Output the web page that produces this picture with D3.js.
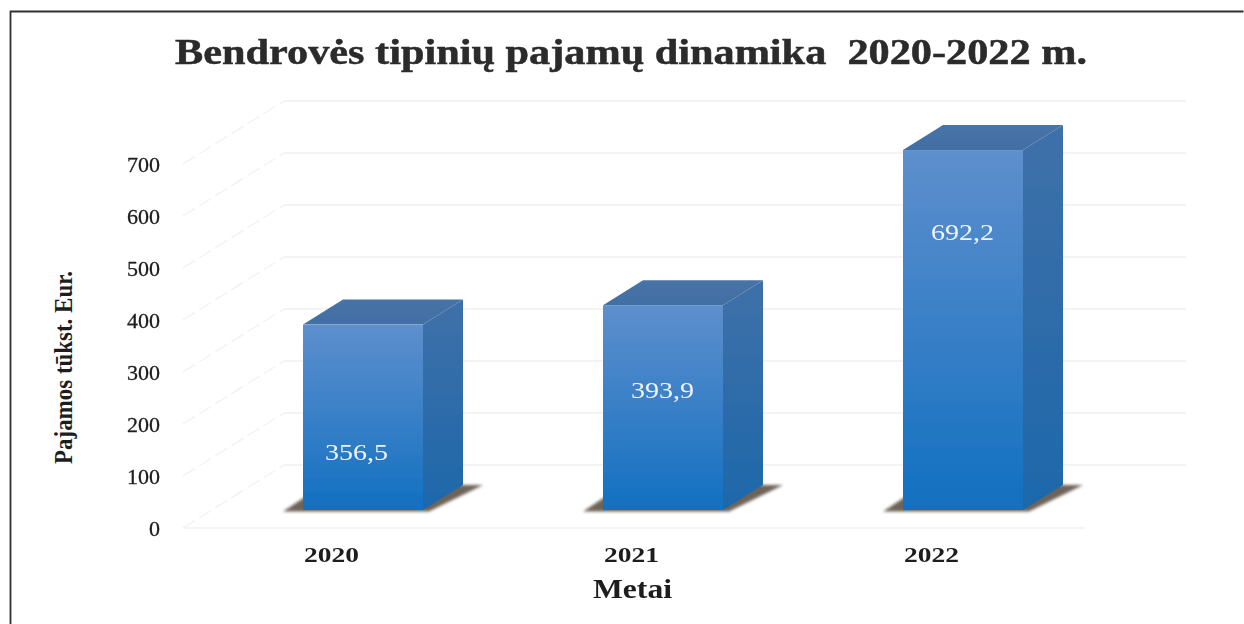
<!DOCTYPE html>
<html><head><meta charset="utf-8">
<script src="https://cdn.jsdelivr.net/npm/d3@7"></script>
<style>html,body{margin:0;padding:0;background:#fff}svg{display:block}text{font-family:"Liberation Serif",serif}</style>
</head><body><svg id="c" width="1244" height="624"></svg>
<script>
const categories = ["2020","2021","2022"];
const values = [356.5,393.9,692.2];
const valueLabels = ["356,5","393,9","692,2"];
const yTicks = [0,100,200,300,400,500,600,700];
const titleText = "Bendrovės tipinių pajamų dinamika  2020-2022 m.";
const yTitle = "Pajamos tūkst. Eur.";
const xTitle = "Metai";
const labelShare = [0.31,0.58,0.77];

const svg = d3.select("#c");
const defs = svg.append("defs");
function grad(id,a,b){const g=defs.append("linearGradient").attr("id",id).attr("x1",0).attr("y1",0).attr("x2",0).attr("y2",1);
  g.append("stop").attr("offset",0).attr("stop-color",a);g.append("stop").attr("offset",1).attr("stop-color",b);}
grad("front","#5e8fcd","#1270c0");
grad("side","#3f70a8","#1d68ab");
grad("top","#4773a6","#426fa5");
defs.append("filter").attr("id","blur").append("feGaussianBlur").attr("stdDeviation",1.5);
defs.append("filter").attr("id","soft").append("feGaussianBlur").attr("stdDeviation",0.4);

const H = d3.scaleLinear().domain([0,700]).range([0,364]);
const yFront = v => 528 - H(v);
const yBack = v => 465 - H(v);
const x = d3.scalePoint().domain(categories).range([363,963]);
const barW = 120, dx = 40, dy = 25, base = 510;

// frame
svg.append("path").attr("d","M10.5 624V11.5H1243.5").attr("fill","none").attr("stroke","#2f2f2f").attr("stroke-width",1.8);

// grid
const grid = svg.append("g").attr("fill","none").attr("stroke-width",1.3);
yTicks.forEach(t=>{
  grid.append("path").attr("stroke","#f1f1f1").attr("stroke-dasharray","14 5").attr("d",`M183 ${yFront(t)}L284 ${yBack(t)}`);
  grid.append("path").attr("stroke","#efefef").attr("d",`M284 ${yBack(t)}H1186`);
});
grid.append("path").attr("stroke","#f1f1f1").attr("d",`M183 ${yFront(0)}H1085`);

// bars
const bars = svg.append("g").attr("filter","url(#soft)").selectAll("g").data(values).join("g");
bars.each(function(v,i){
  const g=d3.select(this), l=x(categories[i])-barW/2, r=l+barW, t=base-H(v);
  g.append("path").attr("filter","url(#blur)").attr("fill","#6e6358")
    .attr("d",`M${l-20} ${base+1.5}L${l+20} ${base-25}H${r+60}L${r+6} ${base+1.5}Z`);
  g.append("path").attr("fill","url(#side)").attr("d",`M${r} ${t}L${r+dx} ${t-dy}V${base-dy}L${r} ${base}Z`);
  g.append("path").attr("fill","url(#top)").attr("d",`M${l} ${t}L${l+dx} ${t-dy}H${r+dx}L${r} ${t}Z`);
  g.append("rect").attr("x",l).attr("y",t).attr("width",barW).attr("height",H(v)).attr("fill","url(#front)");
  g.append("text").attr("x",l+(i==0?22:28)).attr("y",base-H(v)*labelShare[i]+7)
    .attr("textLength",63).attr("lengthAdjust","spacingAndGlyphs")
    .attr("fill","#eef4fb").attr("font-size",24).text(valueLabels[i]);
});

// y ticks
svg.append("g").selectAll("text").data(yTicks).join("text")
  .attr("x",d=>160-(String(d).length*11)).attr("y",d=>yFront(d)+8)
  .attr("textLength",d=>String(d).length*11).attr("lengthAdjust","spacingAndGlyphs")
  .attr("font-size",22).attr("stroke","#1d1d1d").attr("stroke-width",0.3).attr("fill","#1d1d1d").text(d=>d);
// x labels
svg.append("g").selectAll("text").data(categories).join("text")
  .attr("x",d=>x(d)-59).attr("y",562).attr("textLength",55).attr("lengthAdjust","spacingAndGlyphs")
  .attr("font-size",22).attr("font-weight",700).attr("fill","#1d1d1d").text(d=>d);
// titles
svg.append("text").attr("x",175).attr("y",64).attr("font-size",36).attr("font-weight",700)
  .attr("textLength",912).attr("lengthAdjust","spacingAndGlyphs")
  .style("white-space","pre").attr("stroke","#2b2b2b").attr("stroke-width",0.5).attr("fill","#2b2b2b").text(titleText);
svg.append("text").attr("x",593).attr("y",598).attr("font-size",27).attr("font-weight",700)
  .attr("textLength",79).attr("lengthAdjust","spacingAndGlyphs").attr("fill","#1d1d1d").text(xTitle);
svg.append("text").attr("transform","translate(72,464) rotate(-90)").attr("font-size",26).attr("font-weight",700)
  .attr("textLength",193).attr("lengthAdjust","spacingAndGlyphs").attr("fill","#1d1d1d").text(yTitle);
</script></body></html>
